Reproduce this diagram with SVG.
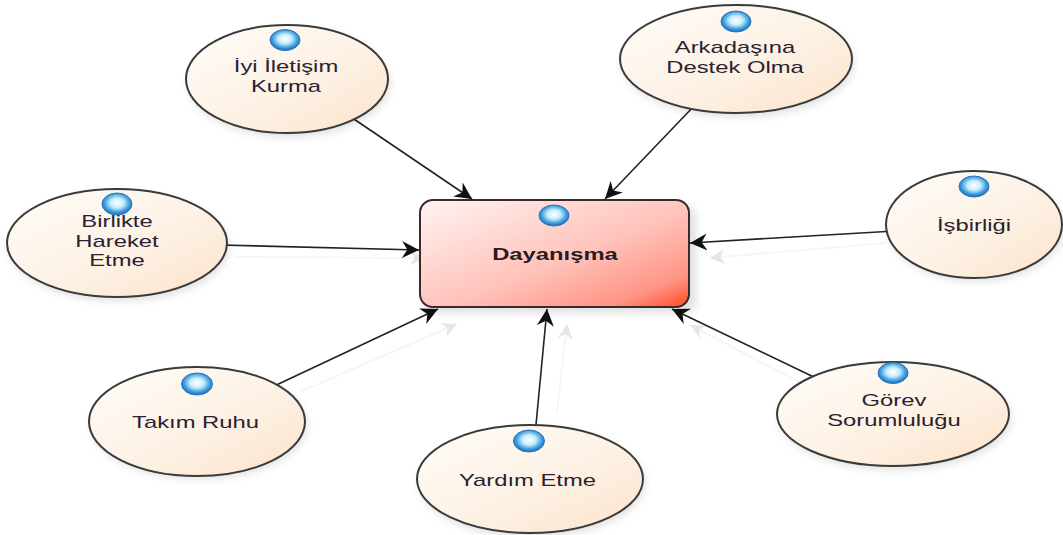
<svg xmlns="http://www.w3.org/2000/svg" width="1063" height="535" viewBox="0 0 1063 535">
<defs>
<linearGradient id="eg" x1="0" y1="0" x2="1" y2="1"><stop offset="0" stop-color="#fffdfa"/><stop offset="0.6" stop-color="#fdf0e2"/><stop offset="1" stop-color="#fbe2ca"/></linearGradient>
<linearGradient id="rg" x1="0" y1="0" x2="1" y2="1"><stop offset="0" stop-color="#fff4f2"/><stop offset="0.55" stop-color="#ffc2ba"/><stop offset="0.85" stop-color="#ff9485"/><stop offset="1" stop-color="#ff4a20"/></linearGradient>
<radialGradient id="bg" cx="0.5" cy="0.45" r="0.55"><stop offset="0" stop-color="#ffffff"/><stop offset="0.4" stop-color="#c8eefc"/><stop offset="0.75" stop-color="#3f9fe0"/><stop offset="1" stop-color="#1c68b0"/></radialGradient>
<filter id="sh" x="-10%" y="-10%" width="125%" height="130%"><feGaussianBlur stdDeviation="4"/></filter>
<marker id="ah" viewBox="0 0 16 16" refX="16" refY="8" markerWidth="17" markerHeight="17" markerUnits="userSpaceOnUse" orient="auto"><path d="M0 0L16 8L0 16L5 8Z" fill="#111"/></marker>
<marker id="gh" viewBox="0 0 16 16" refX="16" refY="8" markerWidth="15" markerHeight="15" markerUnits="userSpaceOnUse" orient="auto"><path d="M0 0L16 8L0 16L5 8Z" fill="#e6e6e6"/></marker>
</defs>
<style>
text{font-family:"Liberation Sans",Arial,sans-serif;font-size:17px;fill:#2a2230;text-anchor:middle}
.t{font-weight:bold;fill:#2a1a22}
.e{fill:url(#eg);stroke:#3a3a3a;stroke-width:2}
.s{fill:#000;opacity:.12;filter:url(#sh)}
.b{fill:url(#bg);stroke:#2a78c0;stroke-width:1}
.c{fill:none;stroke:#222;stroke-width:1.6;marker-end:url(#ah)}
.g{fill:none;stroke:#f6f6f6;stroke-width:2;marker-end:url(#gh)}
</style>
<rect width="1063" height="535" fill="#fff"/>
<g id="connectors">
<path class="g" d="M235 257L425 258"/>
<path class="g" d="M885 243L710 258"/>
<path class="g" d="M300 392L457 324"/>
<path class="g" d="M557 412L567 324"/>
<path class="g" d="M805 385L690 325"/>
<path class="c" d="M345 113L472 199"/>
<path class="c" d="M695 105L605 199"/>
<path class="c" d="M220 245L419 250"/>
<path class="c" d="M895 231L690 243"/>
<path class="c" d="M270 388L438 309"/>
<path class="c" d="M535 435L547 309"/>
<path class="c" d="M820 380L672 309"/>
</g>
<g id="n-dayanisma">
<rect class="s" x="424" y="205" width="272" height="108" rx="12"/>
<rect x="420" y="200" width="269" height="107" rx="13" fill="url(#rg)" stroke="#3a2a2a" stroke-width="2"/>
<ellipse class="b" cx="554" cy="215.5" rx="15" ry="10.5"/>
<text class="t" transform="matrix(1.4 0 0 1 555 260)">Dayanışma</text>
</g>
<g id="n-iyi">
<ellipse class="s" cx="289" cy="83" rx="101" ry="54"/>
<ellipse class="e" cx="287" cy="79" rx="101" ry="54"/>
<ellipse class="b" cx="285" cy="40" rx="15" ry="10.5"/>
<text transform="matrix(1.4 0 0 1 286 72)">İyi İletişim</text><text transform="matrix(1.4 0 0 1 286 92)">Kurma</text>
</g>
<g id="n-arkadasina">
<ellipse class="s" cx="738" cy="63" rx="116" ry="54"/>
<ellipse class="e" cx="736" cy="59" rx="116" ry="54"/>
<ellipse class="b" cx="736" cy="21.5" rx="15" ry="10.5"/>
<text transform="matrix(1.4 0 0 1 735 53)">Arkadaşına</text><text transform="matrix(1.4 0 0 1 735 73)">Destek Olma</text>
</g>
<g id="n-isbirligi">
<ellipse class="s" cx="976" cy="228" rx="88" ry="53.5"/>
<ellipse class="e" cx="974" cy="224.5" rx="88" ry="53.5"/>
<ellipse class="b" cx="974" cy="186.5" rx="15" ry="10.5"/>
<text transform="matrix(1.4 0 0 1 974 231)">İşbirliği</text>
</g>
<g id="n-birlikte">
<ellipse class="s" cx="119" cy="247" rx="110" ry="54"/>
<ellipse class="e" cx="117" cy="243" rx="110" ry="54"/>
<ellipse class="b" cx="117" cy="204" rx="15" ry="11"/>
<text transform="matrix(1.4 0 0 1 117 227)">Birlikte</text><text transform="matrix(1.4 0 0 1 117 247)">Hareket</text><text transform="matrix(1.4 0 0 1 117 266)">Etme</text>
</g>
<g id="n-takim">
<ellipse class="s" cx="199" cy="425" rx="108" ry="54"/>
<ellipse class="e" cx="197" cy="421.5" rx="108" ry="54.5"/>
<ellipse class="b" cx="197" cy="384" rx="15.5" ry="11"/>
<text transform="matrix(1.4 0 0 1 195.5 428)">Takım Ruhu</text>
</g>
<g id="n-yardim">
<ellipse class="s" cx="532" cy="483" rx="113" ry="54"/>
<ellipse class="e" cx="530" cy="479" rx="113" ry="54"/>
<ellipse class="b" cx="529" cy="441" rx="15.5" ry="11"/>
<text transform="matrix(1.4 0 0 1 527.5 486)">Yardım Etme</text>
</g>
<g id="n-gorev">
<ellipse class="s" cx="895" cy="418" rx="116" ry="52"/>
<ellipse class="e" cx="893" cy="414" rx="116" ry="52"/>
<ellipse class="b" cx="893" cy="373" rx="15" ry="10.5"/>
<text transform="matrix(1.4 0 0 1 894 406)">Görev</text><text transform="matrix(1.4 0 0 1 894 426)">Sorumluluğu</text>
</g>
</svg>
